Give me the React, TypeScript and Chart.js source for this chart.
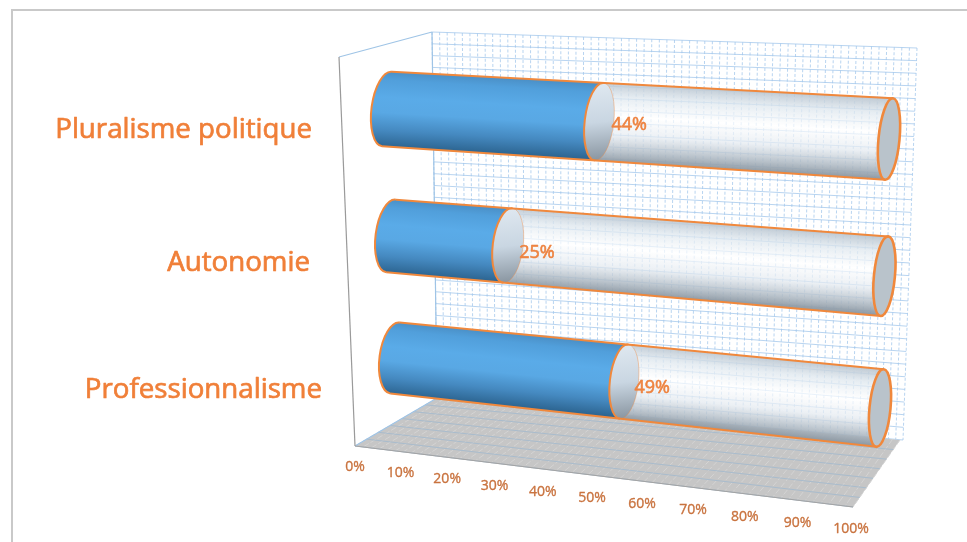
import React, { useEffect, useRef } from "react";
import { Chart, registerables } from "chart.js";

Chart.register(...registerables);

const categories = ["Pluralisme politique", "Autonomie", "Professionnalisme"];
const shareValues = [44, 25, 49];
const remainderValues = [56, 75, 51];
const axisTicks = [0, 10, 20, 30, 40, 50, 60, 70, 80, 90, 100];

const ORANGE = "#f0883c";
const FONT = '"Open Sans"';
const labelRight = [312, 310, 322];
const labelBaseline = [138, 271, 398];
const valueLabelDx = [30, 29, 28];
const valueLabelDy = [3.5, 7.5, 6.5];

const lerp = (a: number, b: number, t: number) => a + (b - a) * t;
const PERSPECTIVE = 0.07;
const warpU = (u: number) => u + PERSPECTIVE * u * (u - 1);
const warpV = (v: number) => v + 0.04 * v * (1 - v);

// projection of the flat chart plane onto the oblique 3D view
function project(u: number, v: number) {
  const U = warpU(u);
  const V = warpV(v);
  const lx = lerp(387, 395, V);
  const ly = lerp(109, 358, V);
  const rx = lerp(889, 880, V);
  const ry = lerp(139, 408, V);
  return { x: lerp(lx, rx, U), y: lerp(ly, ry, U) };
}
const quad = (a: number[], b: number[], c: number[], d: number[], s: number, t: number) => {
  const x = lerp(lerp(a[0], b[0], s), lerp(d[0], c[0], s), t);
  const y = lerp(lerp(a[1], b[1], s), lerp(d[1], c[1], s), t);
  return [x, y];
};

function line(ctx: CanvasRenderingContext2D, a: number[], b: number[]) {
  ctx.beginPath();
  ctx.moveTo(a[0], a[1]);
  ctx.lineTo(b[0], b[1]);
  ctx.stroke();
}

function boldText(ctx: CanvasRenderingContext2D, t: string, x: number, y: number, w: number) {
  ctx.lineWidth = w;
  ctx.strokeStyle = ctx.fillStyle as string;
  ctx.lineJoin = "round";
  ctx.strokeText(t, x, y);
  ctx.fillText(t, x, y);
}

function drawFrameAndWalls(ctx: CanvasRenderingContext2D) {
  ctx.save();
  ctx.strokeStyle = "#c9c9c9";
  ctx.lineWidth = 2;
  ctx.beginPath();
  ctx.moveTo(12, 542);
  ctx.lineTo(12, 10);
  ctx.lineTo(967, 10);
  ctx.stroke();

  // back wall
  const W = [[432, 32], [917, 48], [903, 440], [437, 398]];
  ctx.lineWidth = 1;
  ctx.strokeStyle = "rgba(160,198,235,0.75)";
  for (let i = 0; i <= 31; i++) {
    line(ctx, quad(W[0], W[1], W[2], W[3], 0, i / 31), quad(W[0], W[1], W[2], W[3], 1, i / 31));
  }
  ctx.setLineDash([3, 2]);
  ctx.strokeStyle = "rgba(160,198,235,0.75)";
  for (let i = 0; i <= 64; i++) {
    line(ctx, quad(W[0], W[1], W[2], W[3], i / 64, 0), quad(W[0], W[1], W[2], W[3], i / 64, 1));
  }
  ctx.setLineDash([]);

  // floor
  const F = [[437, 398], [900, 440], [853, 507], [355, 446]];
  ctx.fillStyle = "#c6c6c6";
  ctx.beginPath();
  F.forEach((p, i) => (i ? ctx.lineTo(p[0], p[1]) : ctx.moveTo(p[0], p[1])));
  ctx.closePath();
  ctx.fill();
  ctx.strokeStyle = "#d4d4d4";
  ctx.lineWidth = 1;
  ctx.setLineDash([6, 2]);
  for (let i = 0; i <= 62; i++) {
    line(ctx, quad(F[0], F[1], F[2], F[3], i / 62, 0), quad(F[0], F[1], F[2], F[3], i / 62, 1));
  }
  ctx.setLineDash([]);
  ctx.strokeStyle = "#a9bccd";
  for (let i = 1; i <= 7; i++) {
    line(ctx, quad(F[0], F[1], F[2], F[3], 0, i / 7), quad(F[0], F[1], F[2], F[3], 1, i / 7));
  }

  // side wall outline
  ctx.strokeStyle = "#9fc4e6";
  ctx.lineWidth = 1.2;
  line(ctx, [339, 57], [432, 32]);
  line(ctx, [432, 32], [437, 398]);
  line(ctx, [355, 446], [437, 398]);
  ctx.strokeStyle = "#9a9a9a";
  line(ctx, [339, 57], [355, 446]);
  ctx.strokeStyle = "#a4a4a4";
  line(ctx, [355, 446], [853, 507]);
  ctx.restore();
}

function cylinderGeom(u: number, v: number, half: number) {
  const c = project(u, v);
  const r = half * (1.04 - 0.05 * v) * (1 + 0.09 * warpU(u));
  const w = 15.5 - 5 * u * u;
  const th = ((7.5 - 2 * u) * Math.PI) / 180;
  return { x: c.x, y: c.y, r, w, th };
}
type G = ReturnType<typeof cylinderGeom>;
const arcLeft = (ctx: CanvasRenderingContext2D, g: G, down: boolean) =>
  down
    ? ctx.ellipse(g.x, g.y, g.w, g.r, g.th, -Math.PI / 2, Math.PI / 2, true)
    : ctx.ellipse(g.x, g.y, g.w, g.r, g.th, Math.PI / 2, (3 * Math.PI) / 2, false);
const topOf = (g: G) => [g.x + g.r * Math.sin(g.th), g.y - g.r * Math.cos(g.th)];
const botOf = (g: G) => [g.x - g.r * Math.sin(g.th), g.y + g.r * Math.cos(g.th)];

function bodyFill(
  ctx: CanvasRenderingContext2D,
  a: G,
  b: G,
  stops: [number, string][],
) {
  const mx = (a.x + b.x) / 2;
  const my = (a.y + b.y) / 2;
  const mr = (a.r + b.r) / 2;
  const len = Math.hypot(b.x - a.x, b.y - a.y) || 1;
  const nx = -(b.y - a.y) / len;
  const ny = (b.x - a.x) / len;
  const grad = ctx.createLinearGradient(mx - nx * mr, my - ny * mr, mx + nx * mr, my + ny * mr);
  stops.forEach(([o, c]) => grad.addColorStop(o, c));
  ctx.fillStyle = grad;
  ctx.beginPath();
  arcLeft(ctx, a, true);
  const bb = botOf(b);
  ctx.lineTo(bb[0], bb[1]);
  arcLeft(ctx, b, false);
  ctx.closePath();
  ctx.fill();
}

const BLUE: [number, string][] = [
  [0, "#4a8fc6"],
  [0.12, "#519fdb"],
  [0.35, "#5aabe8"],
  [0.55, "#59a8e4"],
  [0.78, "#4589c0"],
  [1, "#2c6490"],
];
const GLASS: [number, string][] = [
  [0, "rgba(185,197,208,0.9)"],
  [0.18, "rgba(222,231,238,0.75)"],
  [0.42, "rgba(255,255,255,0.7)"],
  [0.66, "rgba(228,234,240,0.72)"],
  [0.86, "rgba(175,186,196,0.85)"],
  [1, "rgba(138,150,161,0.95)"],
];

const view3d = {
  id: "view3d",
  beforeDatasetsDraw(chart: any) {
    const ctx: CanvasRenderingContext2D = chart.ctx;
    const area = chart.chartArea;
    drawFrameAndWalls(ctx);

    const toU = (px: number) => (px - area.left) / area.width;
    const toV = (py: number) => ((py - area.top) / area.height - 1 / 6) * 1.5;

    const filled = chart.getDatasetMeta(0).data;
    const rest = chart.getDatasetMeta(1).data;
    filled.forEach((el: any, i: number) => {
      const v = toV(el.y);
      const half = el.height / 2;
      const a = cylinderGeom(toU(el.base), v, half);
      const b = cylinderGeom(toU(el.x), v, half);
      const c = cylinderGeom(toU(rest[i].x), v, half);

      ctx.save();
      bodyFill(ctx, b, c, GLASS);
      bodyFill(ctx, a, b, BLUE);

      // divider cap
      const mx = b.x;
      const cg = ctx.createLinearGradient(mx, b.y - b.r, mx + 8, b.y + b.r);
      cg.addColorStop(0, "#dfe8f0");
      cg.addColorStop(0.5, "#c9d6e2");
      cg.addColorStop(1, "#87939e");
      ctx.fillStyle = cg;
      ctx.beginPath();
      ctx.ellipse(b.x, b.y, b.w, b.r, b.th, 0, Math.PI * 2);
      ctx.fill();

      // far cap
      ctx.fillStyle = "#b9c3cb";
      ctx.beginPath();
      ctx.ellipse(c.x, c.y, c.w, c.r, c.th, 0, Math.PI * 2);
      ctx.fill();

      // outlines
      ctx.strokeStyle = ORANGE;
      ctx.lineWidth = 2;
      ctx.beginPath();
      arcLeft(ctx, a, true);
      ctx.stroke();
      line(ctx, topOf(a), topOf(c));
      line(ctx, botOf(a), botOf(c));
      ctx.beginPath();
      arcLeft(ctx, b, true);
      ctx.stroke();
      ctx.lineWidth = 1;
      ctx.globalAlpha = 0.4;
      ctx.beginPath();
      ctx.ellipse(b.x, b.y, b.w, b.r, b.th, -Math.PI / 2, Math.PI / 2, false);
      ctx.stroke();
      ctx.globalAlpha = 1;
      ctx.lineWidth = 2.6;
      ctx.beginPath();
      ctx.ellipse(c.x, c.y, c.w, c.r, c.th, 0, Math.PI * 2);
      ctx.stroke();
      ctx.restore();

      // value label
      ctx.save();
      ctx.fillStyle = "#ee8340";
      ctx.font = `400 18px ${FONT}`;
      ctx.textAlign = "center";
      ctx.textBaseline = "middle";
      boldText(ctx, `${chart.data.datasets[0].data[i]}%`, b.x + valueLabelDx[i], b.y + valueLabelDy[i], 0.6);
      ctx.restore();
    });

    // category labels
    ctx.save();
    ctx.fillStyle = "#f07f38";
    ctx.font = `400 27.7px ${FONT}`;
    ctx.textAlign = "right";
    ctx.textBaseline = "alphabetic";
    (chart.data.labels as string[]).forEach((t, i) => {
      boldText(ctx, t, labelRight[i], labelBaseline[i], 0.7);
    });
    ctx.restore();

    // value axis labels, along the front edge of the floor
    const xs = chart.scales.x;
    ctx.save();
    ctx.fillStyle = "#c9733f";
    ctx.font = `400 14px ${FONT}`;
    ctx.textAlign = "center";
    ctx.textBaseline = "middle";
    xs.ticks.forEach((tk: any) => {
      const u = toU(xs.getPixelForValue(tk.value));
      const U = u + 0.0887 * u * (u - 1);
      boldText(ctx, `${tk.value}%`, lerp(355, 851, U), lerp(467, 529, u), 0.35);
    });
    ctx.restore();
  },
};

export default function App() {
  const ref = useRef<HTMLCanvasElement>(null);
  useEffect(() => {
    document.body.style.margin = "0";
    const chart = new Chart(ref.current!, {
      type: "bar",
      data: {
        labels: categories,
        datasets: [
          { label: "Part", data: shareValues, backgroundColor: "transparent", stack: "s", categoryPercentage: 0.4, barPercentage: 1 },
          { label: "Reste", data: remainderValues, backgroundColor: "transparent", stack: "s", categoryPercentage: 0.4, barPercentage: 1 },
        ],
      },
      options: {
        indexAxis: "y",
        responsive: false,
        animation: false,
        layout: { padding: 0 },
        plugins: { legend: { display: false }, tooltip: { enabled: false } },
        scales: {
          x: {
            display: false,
            stacked: true,
            min: 0,
            max: 100,
            afterBuildTicks: (s: any) => {
              s.ticks = axisTicks.map((value) => ({ value }));
            },
          },
          y: { display: false, stacked: true },
        },
      },
      plugins: [view3d],
    } as any);
    return () => chart.destroy();
  }, []);
  return (
    <div style={{ position: "fixed", left: 0, top: 0, width: 967, height: 542, background: "#fff", overflow: "hidden" }}>
      <canvas ref={ref} width={967} height={542} style={{ filter: "blur(0.6px)" }} />
    </div>
  );
}
